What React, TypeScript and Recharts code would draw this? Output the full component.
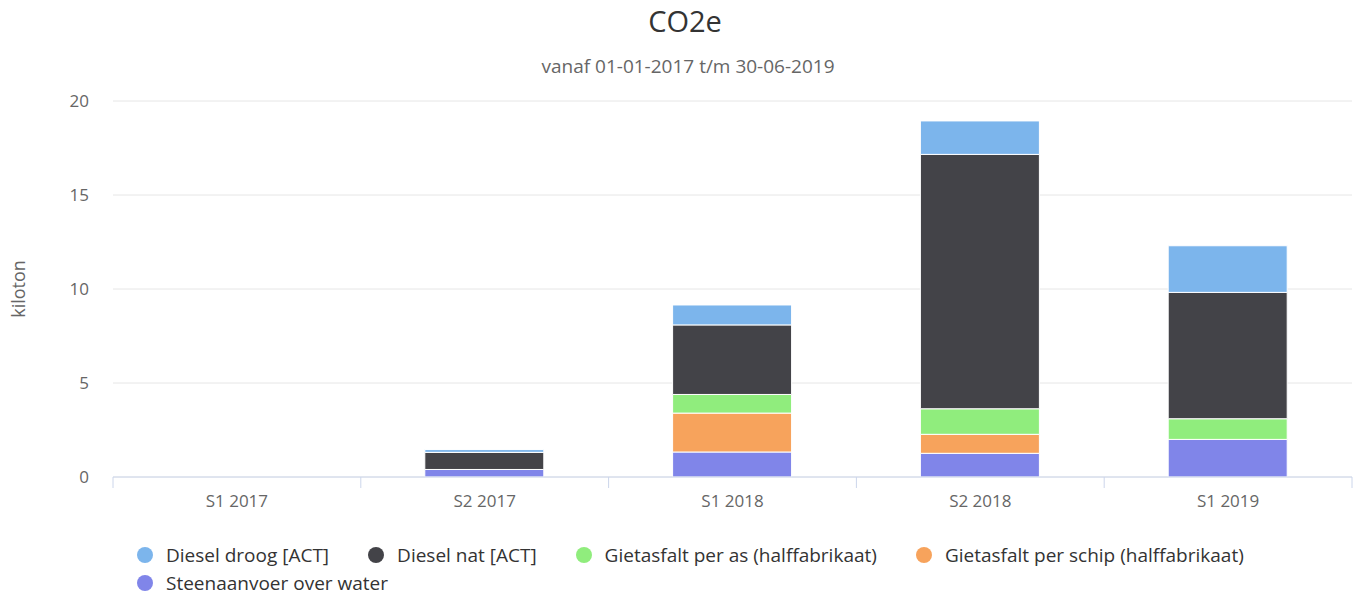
import { BarChart, Bar, XAxis, YAxis, CartesianGrid } from "recharts";

const categories = ["S1 2017", "S2 2017", "S1 2018", "S2 2018", "S1 2019"];
const dieselDroog = [0, 0.15, 1.06, 1.78, 2.48];
const dieselNat = [0, 0.91, 3.7, 13.53, 6.72];
const gietasfaltAs = [0, 0, 0.99, 1.36, 1.1];
const gietasfaltSchip = [0, 0, 2.07, 1.01, 0];
const steenaanvoer = [0, 0.4, 1.33, 1.26, 2.0];
const yTicks = [0, 5, 10, 15, 20];

// legend order = highcharts order, stacking order is reversed (first on top)
const series = [
  { key: "droog", name: "Diesel droog [ACT]", color: "#7cb5ec", values: dieselDroog },
  { key: "nat", name: "Diesel nat [ACT]", color: "#434348", values: dieselNat },
  { key: "as", name: "Gietasfalt per as (halffabrikaat)", color: "#90ed7d", values: gietasfaltAs },
  { key: "schip", name: "Gietasfalt per schip (halffabrikaat)", color: "#f7a35c", values: gietasfaltSchip },
  { key: "steen", name: "Steenaanvoer over water", color: "#8085e9", values: steenaanvoer },
];

const data = categories.map((cat, i) => {
  const row: Record<string, string | number> = { cat };
  series.forEach((s) => {
    row[s.key] = s.values[i];
  });
  return row;
});

const FONT = '"Open Sans", sans-serif';
const PLOT_LEFT = 113;
const PLOT_RIGHT = 1352;
const BAND = (PLOT_RIGHT - PLOT_LEFT) / categories.length;

const XTick = (props: any) => {
  const { x, y, payload, index } = props;
  const top = y - 8;
  return (
    <g>
      <line x1={x - BAND / 2} x2={x - BAND / 2} y1={top} y2={top + 11} stroke="#ccd6eb" />
      {index === categories.length - 1 && (
        <line x1={x + BAND / 2} x2={x + BAND / 2} y1={top} y2={top + 11} stroke="#ccd6eb" />
      )}
      <text x={x} y={top + 30} textAnchor="middle" fill="#666666" fontSize={17} fontFamily={FONT}>
        {payload.value}
      </text>
    </g>
  );
};

const YTick = (props: any) => {
  const { y, payload } = props;
  return (
    <text x={89} y={y + 6} textAnchor="end" fill="#666666" fontSize={17} fontFamily={FONT}>
      {payload.value}
    </text>
  );
};

const LegendItem = ({ name, color }: { name: string; color: string }) => (
  <div style={{ display: "flex", alignItems: "center", marginRight: 39 }}>
    <span
      style={{
        width: 16,
        height: 16,
        borderRadius: 8,
        background: color,
        display: "inline-block",
        marginRight: 13,
      }}
    />
    <span style={{ fontSize: 19, lineHeight: "20px", color: "#333333", fontFamily: FONT }}>
      {name}
    </span>
  </div>
);

export default function App() {
  return (
    <div
      style={{
        position: "absolute",
        left: 0,
        top: 0,
        width: 1359,
        height: 596,
        background: "#fff",
        fontFamily: FONT,
        overflow: "hidden",
      }}
    >
      <div
        style={{
          position: "absolute",
          top: 1,
          left: 0,
          width: 1370,
          textAlign: "center",
          fontSize: 29,
          lineHeight: "40px",
          color: "#333333",
        }}
      >
        CO2e
      </div>
      <div
        style={{
          position: "absolute",
          top: 53,
          left: 0,
          width: 1376,
          textAlign: "center",
          fontSize: 19,
          lineHeight: "26px",
          color: "#666666",
        }}
      >
        vanaf 01-01-2017 t/m 30-06-2019
      </div>
      <BarChart
        width={1359}
        height={596}
        data={data}
        margin={{ top: 101, right: 1359 - PLOT_RIGHT, bottom: 89, left: 0 }}
        barSize={119}
      >
        <CartesianGrid vertical={false} stroke="#e6e6e6" />
        <XAxis
          dataKey="cat"
          height={30}
          axisLine={{ stroke: "#ccd6eb" }}
          tickLine={false}
          tick={<XTick />}
          interval={0}
        />
        <YAxis
          width={PLOT_LEFT}
          domain={[0, 20]}
          ticks={yTicks}
          axisLine={false}
          tickLine={false}
          tick={<YTick />}
          label={{
            content: () => (
              <text
                x={25}
                y={289}
                transform="rotate(-90 25 289)"
                textAnchor="middle"
                fill="#666666"
                fontSize={18}
                fontFamily={FONT}
              >
                kiloton
              </text>
            ),
          }}
        />
        {[...series].reverse().map((s) => (
          <Bar
            key={s.key}
            dataKey={s.key}
            name={s.name}
            stackId="a"
            fill={s.color}
            stroke="#ffffff"
            strokeWidth={1}
            isAnimationActive={false}
          />
        ))}
      </BarChart>
      <div style={{ position: "absolute", left: 137, top: 545 }}>
        <div style={{ display: "flex", height: 20 }}>
          {series.slice(0, 4).map((s) => (
            <LegendItem key={s.key} name={s.name} color={s.color} />
          ))}
        </div>
        <div style={{ display: "flex", height: 20, marginTop: 8 }}>
          {series.slice(4).map((s) => (
            <LegendItem key={s.key} name={s.name} color={s.color} />
          ))}
        </div>
      </div>
    </div>
  );
}
